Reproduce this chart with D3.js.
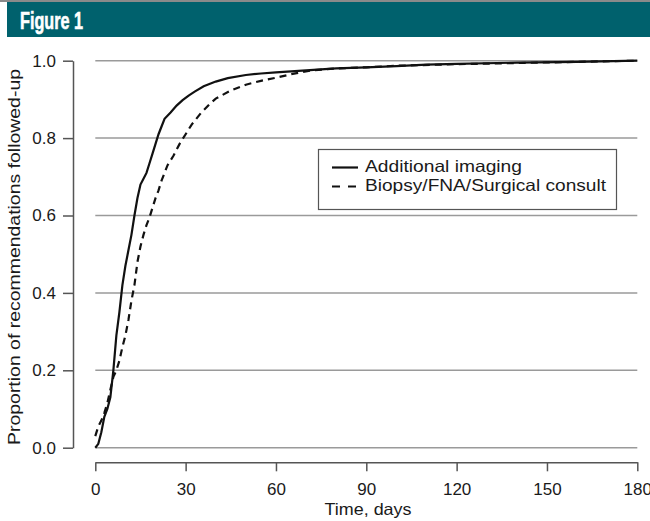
<!DOCTYPE html>
<html><head><meta charset="utf-8">
<script src="https://cdn.jsdelivr.net/npm/d3@7/dist/d3.min.js"></script>
<style>
body{margin:0;background:#fff;}
svg{display:block;}
</style></head>
<body>
<svg id="chart" width="650" height="521"></svg>
<script>
const title = "Figure 1";
const xTicks = [0, 30, 60, 90, 120, 150, 180];
const yTicks = [0.0, 0.2, 0.4, 0.6, 0.8, 1.0];
const xLabel = "Time, days";
const yLabel = "Proportion of recommendations followed-up";
const seriesNames = ["Additional imaging", "Biopsy/FNA/Surgical consult"];
const imagingDays = [0,1,2,3,4,5,6,7,8,9,10,11,12,13,14,15,16,17,18,19,20,21,22,23,25,27,29,31,33,36,40,44,50,55,60,70,80,90,100,110,120,140,160,180];
const imagingVals = [0,0.01,0.04,0.08,0.10,0.13,0.20,0.29,0.35,0.42,0.47,0.51,0.55,0.60,0.645,0.68,0.695,0.71,0.735,0.76,0.785,0.81,0.83,0.85,0.866,0.884,0.898,0.91,0.92,0.934,0.946,0.955,0.963,0.967,0.970,0.975,0.980,0.983,0.986,0.990,0.992,0.995,0.997,1.0];
const biopsyDays = [0,1,2,3,4,5,6,7,8,9,10,11,12,13,14,15,16,17,18,19,20,21,22,23,24,26,28,30,32,35,38,40,45,50,55,60,65,72,80,90,100,120,140,160,180];
const biopsyVals = [0.03,0.055,0.07,0.09,0.115,0.15,0.183,0.20,0.225,0.26,0.29,0.33,0.38,0.42,0.48,0.52,0.55,0.575,0.595,0.62,0.645,0.665,0.69,0.71,0.73,0.755,0.785,0.81,0.835,0.864,0.888,0.902,0.923,0.938,0.948,0.956,0.965,0.975,0.98,0.983,0.987,0.991,0.994,0.997,1.0];

const svg = d3.select("#chart");
const font = "'Liberation Sans', Arial, Helvetica, sans-serif";
const ink = "#1a1a1a";

// header
svg.append("rect").attr("x",0).attr("y",0).attr("width",650).attr("height",2).attr("fill","#8a8a8a");
svg.append("rect").attr("x",7).attr("y",2).attr("width",643).attr("height",35).attr("fill","#00616d");
svg.append("text").attr("x",20).attr("y",28.5).text(title)
  .attr("fill","#fff").attr("stroke","#fff").attr("stroke-width",0.6)
  .attr("font-family","'Liberation Sans Narrow','Liberation Sans',Arial,sans-serif")
  .attr("font-weight","bold").attr("font-size",23.5)
  .attr("textLength",63).attr("lengthAdjust","spacingAndGlyphs");

const x = d3.scaleLinear().domain([0,180]).range([95.3,637.3]);
const y = d3.scaleLinear().domain([0,1]).range([447.7,60.7]);

// gridlines
svg.append("g").selectAll("line").data(yTicks).join("line")
  .attr("x1",x(0)).attr("x2",x(180)).attr("y1",d=>y(d)).attr("y2",d=>y(d))
  .attr("stroke","#9a9a9a").attr("stroke-width",1.5);

// y axis
const yAxis = svg.append("g").attr("transform","translate(73,0)")
  .call(d3.axisLeft(y).tickValues(yTicks).tickFormat(d3.format(".1f")).tickSize(10).tickSizeOuter(0));
yAxis.select(".domain").attr("stroke","#555").attr("stroke-width",1.5);
yAxis.selectAll(".tick line").attr("stroke","#555").attr("stroke-width",1.5);
yAxis.selectAll(".tick text").attr("font-family",font).attr("font-size",17).attr("fill",ink).attr("x",-17);

// x axis
const xAxis = svg.append("g").attr("transform","translate(0,462.3)")
  .call(d3.axisBottom(x).tickValues(xTicks).tickSize(9).tickSizeOuter(0));
xAxis.select(".domain").attr("stroke","#555").attr("stroke-width",1.5);
xAxis.selectAll(".tick line").attr("stroke","#555").attr("stroke-width",1.5);
xAxis.selectAll(".tick text").attr("font-family",font).attr("font-size",17).attr("fill",ink)
  .attr("dy",null).attr("y",33);

svg.append("text").attr("x",368).attr("y",515).attr("text-anchor","middle")
  .attr("font-family",font).attr("font-size",16.5).attr("fill",ink).text(xLabel)
  .attr("textLength",87).attr("lengthAdjust","spacingAndGlyphs");
svg.append("text").attr("transform","translate(19.5,257) rotate(-90)").attr("text-anchor","middle")
  .attr("font-family",font).attr("font-size",16.5).attr("fill",ink).text(yLabel)
  .attr("textLength",376).attr("lengthAdjust","spacingAndGlyphs");

const line = d3.line().x(d=>x(d[0])).y(d=>y(d[1]));
const imaging = imagingDays.map((d,i)=>[d,imagingVals[i]]);
const biopsy = biopsyDays.map((d,i)=>[d,biopsyVals[i]]);

svg.append("path").datum(biopsy).attr("d",line).attr("fill","none")
  .attr("stroke","#111").attr("stroke-width",2.2).attr("stroke-dasharray","7,5");
svg.append("path").datum(imaging).attr("d",line).attr("fill","none")
  .attr("stroke","#111").attr("stroke-width",2.2);

// legend
const lg = svg.append("g");
lg.append("rect").attr("x",318.5).attr("y",149.5).attr("width",298).attr("height",60)
  .attr("fill","#fff").attr("stroke","#555").attr("stroke-width",1.2);
const rows = [{name:seriesNames[0],dash:null,y:167.5,len:157},{name:seriesNames[1],dash:"8,8",y:186.5,len:241}];
rows.forEach(r=>{
  lg.append("line").attr("x1",332).attr("x2",358).attr("y1",r.y).attr("y2",r.y)
    .attr("stroke","#111").attr("stroke-width",2.2).attr("stroke-dasharray",r.dash);
  lg.append("text").attr("x",365).attr("y",r.y+4.5).attr("font-family",font).attr("font-size",16.5)
    .attr("fill",ink).text(r.name).attr("textLength",r.len).attr("lengthAdjust","spacingAndGlyphs");
});
</script>
</body></html>
